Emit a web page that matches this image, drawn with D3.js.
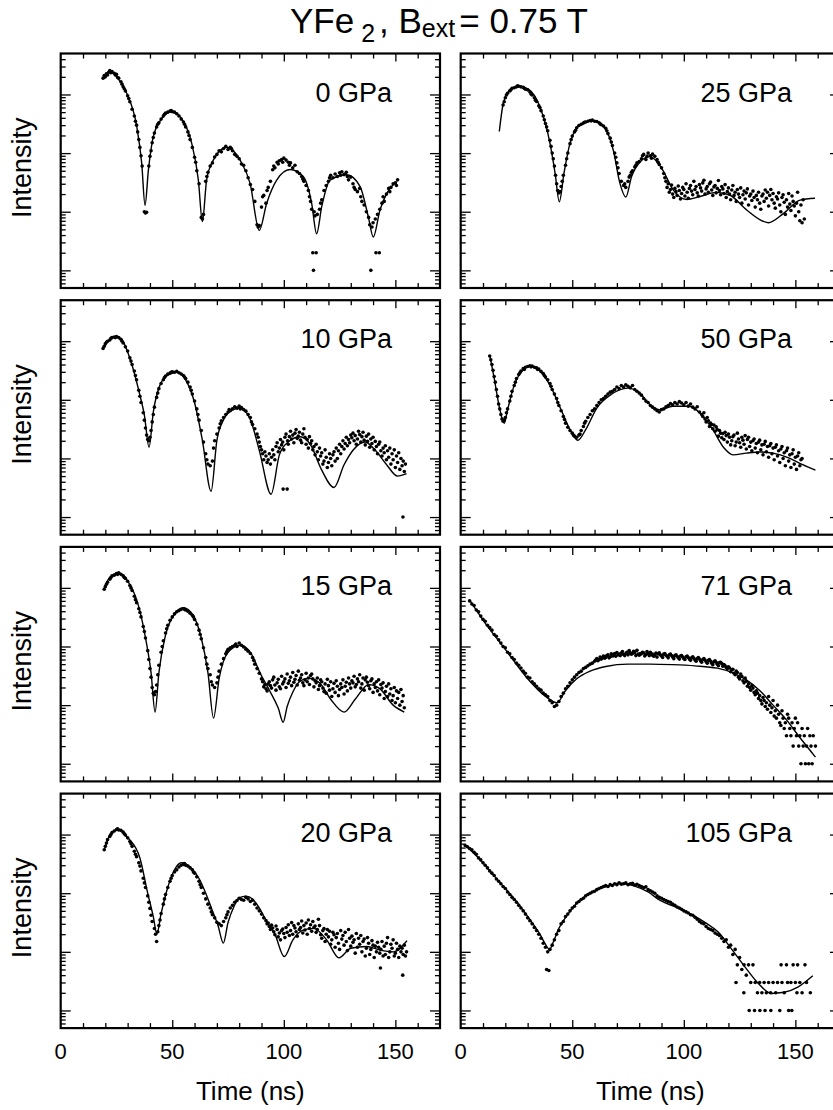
<!DOCTYPE html>
<html><head><meta charset="utf-8">
<script src="https://cdn.jsdelivr.net/npm/d3@7"></script>
<style>
body{margin:0;background:#fff}
svg{display:block}
text{font-family:"Liberation Sans",Arial,Helvetica,sans-serif;fill:#000}
</style></head>
<body><svg id="chart" width="833" height="1110"></svg>
<script>
// ---------------- data ----------------
const xTickLabels = [0, 50, 100, 150];
const panelLabels = ["0 GPa", "25 GPa", "10 GPa", "50 GPa", "15 GPa", "71 GPa", "20 GPa", "105 GPa"];

const fit0 = [[19.1,19950],[22.1,24550],[25.1,19950],[29.6,10470],[34.1,2820],[36.3,676],[37.8,129],[39.3,513],[41.5,1905],[45.3,3890],[49.7,5130],[55,3470],[58.7,1480],[61.7,347],[63.5,68],[65.4,347],[68.4,759],[74.4,1260],[80.4,759],[84.9,302],[89,48],[92.3,138],[96.8,347],[102.8,525],[108.7,398],[112.5,138],[114.7,42],[117,123],[120.7,347],[128.2,427],[134.2,269],[137.9,81],[140.1,37],[143.1,107],[146.1,204],[150.6,324]];
const data0 = [[19,19000],[19.5,21000],[20,20000],[20.5,22500],[21,21500],[21.5,24000],[22,25500],[22.5,23500],[23,24500],[24,23000],[24.5,21500],[25,22000],[25.5,19500],[26,19000],[27,16500],[27.5,15000],[28,13500],[28.5,12500],[29,11500],[30,9500],[30.5,8500],[31,7500],[32,5600],[33,4300],[33.5,3500],[34,3000],[34.5,2300],[35,1700],[35.5,1250],[36,900],[36.5,600],[37.5,100],[38,95],[38.5,98],[39.5,600],[40,880],[40.5,1100],[41,1500],[41.5,1850],[42,2200],[43,2800],[43.5,3100],[44,3300],[45,3800],[46,4300],[46.5,4600],[47,4800],[48,5000],[49,5200],[49.5,5300],[50,5100],[51,5000],[52,4700],[53,4300],[54,3800],[55,3400],[55.5,3100],[56,2800],[57,2300],[57.5,2000],[58,1700],[59,1250],[60,850],[60.5,700],[61,500],[62,300],[63,80],[63.5,75],[64,90],[65,330],[65.5,400],[66,470],[67,600],[68,680],[69,860],[70,950],[71,1100],[72,1050],[73,1200],[74,1300],[75,1150],[76,1250],[76.5,1200],[77,1100],[78,950],[79,880],[80,800],[81,650],[82,620],[83,500],[84,380],[85,290],[86,240],[87,150],[88,60],[88.5,55],[89,58],[90,120],[90.5,180],[91,190],[92,140],[92.5,230],[93,260],[94,330],[95,520],[95.5,600],[96,560],[97,700],[97.5,650],[98,740],[99,780],[99.5,700],[100,820],[101,760],[102,700],[102.5,620],[103,680],[104,560],[105,620],[106,480],[107,450],[108,400],[108.5,360],[109,330],[110,280],[111,230],[111.5,180],[112,150],[112.5,110],[113,20],[113.3,10],[113.6,100],[114,85],[114.5,20],[115,90],[116,110],[116.5,140],[117,160],[118,230],[119,280],[120,330],[120.5,380],[121,420],[122,380],[123,440],[124,400],[125,460],[125.5,420],[126,480],[127,430],[128,470],[128.5,400],[129,350],[130,390],[131,300],[131.5,260],[132,240],[133,220],[134,250],[134.5,180],[135,150],[136,130],[137,100],[138,80],[138.5,60],[139,10],[139.5,55],[140,65],[141,75],[141.3,20],[142,90],[142.8,20],[143,110],[144,140],[144.5,180],[145,150],[146,200],[147,250],[147.5,220],[148,260],[149,300],[150,310],[150.5,280],[151,350]];

const fit25 = [[17.3,2340],[19.1,7080],[22.1,12020],[26.1,13800],[30.3,12300],[35.5,6170],[40,1480],[42.3,457],[44.2,148],[46.3,457],[49,1480],[53.5,3020],[59.2,3550],[64.7,2630],[68.4,1120],[71.4,302],[74,178],[76.6,398],[80.4,708],[84.9,871],[90.1,550],[95.3,234],[101.3,162],[107.3,182],[114.7,214],[120.7,191],[128.2,107],[137.9,65],[144.6,93],[152.1,158],[158.8,170]];
const data25 = [[19,6600],[19.5,7500],[20,8800],[20.5,9800],[21,10500],[22,11500],[22.5,12000],[23,12800],[24,13000],[25,13500],[25.5,14000],[26,13800],[27,13500],[28,13200],[28.5,12800],[29,12300],[30,12000],[31,11000],[31.5,10200],[32,9800],[33,8800],[33.5,8000],[34,7600],[35,6400],[35.5,6000],[36,5300],[37,4300],[37.5,3700],[38,3200],[38.5,2800],[39,2400],[40,1650],[40.5,1300],[41,1000],[41.5,800],[42,600],[42.5,420],[43,300],[43.5,230],[44,210],[44.5,220],[45,270],[45.5,330],[46,420],[47,620],[47.5,800],[48,1000],[49,1450],[49.5,1700],[50,1950],[51,2300],[51.5,2450],[52,2700],[53,2950],[54,3100],[55,3250],[55.5,3350],[56,3400],[57,3500],[58,3600],[58.5,3550],[59,3650],[60,3500],[61,3450],[62,3300],[62.5,3150],[63,3050],[64,2900],[65,2650],[65.5,2400],[66,2150],[67,1800],[67.5,1550],[68,1350],[69,1000],[69.5,850],[70,680],[70.5,560],[71,450],[72,330],[73,280],[73.5,300],[74,260],[75,330],[75.5,390],[76,420],[76.5,470],[77,500],[78,580],[78.5,620],[79,680],[80,720],[81,800],[81.5,900],[82,950],[83,780],[83.5,880],[84,1000],[85,900],[85.5,820],[86,960],[87,880],[88,780],[88.5,700],[89,640],[90,560],[91,450],[91.5,380],
[92,330],[92.5,260],[93,300],[93.5,215],[94,240],[94.5,285],[95,200],[95.5,175],[96,250],[96.5,220],[97,190],[97.5,275],[98,230],[98.5,165],[99,205],[99.5,260],[100,240],[100.5,185],[101,300],[101.5,215],[102,170],[102.5,250],[103,280],[103.5,225],[104,195],[104.5,330],[105,240],[105.5,270],[106,210],[106.5,185],[107,290],[107.5,255],[108,225],[108.5,310],[109,345],[109.5,200],[110,245],[110.5,270],[111,215],[111.5,300],[112,320],[112.5,235],[113,190],[113.5,265],[114,280],[114.5,210],[115,250],[115.5,340],[116,230],[116.5,195],[117,270],[117.5,245],[118,205],[118.5,290],[119,175],[119.5,220],[120,255],[120.5,200],[121,160],[121.5,235],[122,280],[122.5,190],[123,215],[123.5,150],[124,240],[124.5,200],[125,175],[125.5,255],[126,140],[126.5,195],[127,225],[127.5,165],[128,210],[128.5,245],[129,130],[129.5,185],[130,200],[130.5,155],[131,225],[131.5,175],[132,120],[132.5,190],[133,160],[133.5,215],[134,140],[134.5,110],[135,185],[135.5,200],[136,150],[136.5,235],[137,170],[137.5,215],[138,125],[138.5,190],[139,240],[139.5,160],[140,205],[140.5,140],[141,115],[141.5,180],[142,165],[142.5,210],[143,130],[143.5,100],[144,175],[144.5,195],[145,145],[145.5,90],[146,160],[146.5,120],[147,205],[147.5,135],[148,105],[148.5,185],[149,150],[149.5,125],[150,85],[150.5,140],[151,215],[151.5,100],[152,70],[152.5,130],[153,65],[153.5,160],[154,75]];

const fit10 = [[19,7590],[21,9770],[24.3,11750],[27,10960],[31,5130],[35.5,1200],[37.5,550],[39.6,155],[41.5,617],[44.5,1780],[48,2630],[52,2950],[56,2190],[60,891],[63.5,204],[67.4,27.5],[70,204],[73,457],[77,676],[80.4,724],[85,457],[89,138],[94.3,24.5],[98,115],[102,191],[107.3,234],[112,170],[117,63],[122.5,32],[127,78],[131,138],[136.4,191],[141,138],[146,79],[151,50],[155,55]];
const data10 = [[19,7500],[19.5,8200],[20,9000],[20.5,9600],[21,10000],[22,10500],[22.5,11200],[23,11500],[24,11800],[24.5,11500],[25,12000],[26,11500],[27,10800],[27.5,10000],[28,9300],[29,8000],[30,6800],[31,5200],[31.5,4600],[32,4000],[33,3100],[33.5,2600],[34,2200],[35,1450],[35.5,1150],[36,900],[37,600],[37.5,450],[38,330],[38.5,250],[39,210],[39.5,200],[40,230],[40.5,300],[41,420],[41.5,560],[42,750],[43,1100],[43.5,1300],[44,1550],[45,1900],[46,2200],[46.5,2400],[47,2550],[48,2750],[49,2850],[49.5,2950],[50,3000],[51,2950],[52,3050],[53,2900],[54,2750],[55,2600],[55.5,2450],[56,2300],[57,2000],[58,1650],[58.5,1450],[59,1250],[60,950],[61,700],[61.5,560],[62,450],[63,300],[64,190],[65,120],[65.5,95],[66,80],[67,75],[68,90],[68.5,150],[69,200],[70,260],[71,330],[71.5,390],[72,440],[73,500],[74,560],[75,620],[75.5,680],[76,650],[77,700],[78,760],[79,720],[80,780],[80.5,700],[81,740],[82,680],[83,640],[84,560],[85,500],[85.5,420],[86,380],[87,320],
[88,260],[88.5,230],[89,190],[89.5,160],[90,140],[90.5,120],[91,95],[91.5,130],[92,110],[92.5,85],[93,95],[93.5,120],[94,80],[94.5,105],[95,140],[95.5,115],[96,95],[96.5,160],[97,185],[97.5,130],[98,150],[98.5,210],[99,170],[99.5,190],[99.7,30],[100,140],[100.5,230],[101,260],[101.5,30],[101.7,200],[102,175],[102.5,235],[103,290],[103.5,215],[104,250],[104.5,185],[105,270],[105.5,310],[106,220],[106.5,240],[107,280],[107.5,205],[108,185],[108.5,260],[109,320],[109.5,230],[110,175],[110.5,210],[111,150],[111.5,235],[112,180],[112.5,200],[113,140],[113.5,160],[114,115],[114.5,175],[115,130],[115.5,95],[116,150],[116.5,110],[117,125],[117.5,80],[118,90],[118.5,140],[119,105],[119.5,70],[120,85],[120.5,120],[121,100],[121.5,75],[122,115],[122.5,130],[123,90],[123.5,150],[124,100],[124.5,135],[125,175],[125.5,120],[126,160],[126.5,200],[127,145],[127.5,180],[128,230],[128.5,165],[129,210],[129.5,185],[130,250],[130.5,225],[131,270],[131.5,200],[132,245],[132.5,175],[133,215],[133.5,290],[134,255],[134.5,190],[135,235],[135.5,280],[136,205],[136.5,170],[137,240],[137.5,195],[138,260],[138.5,155],[139,215],[139.5,180],[140,230],[140.5,140],[141,195],[141.5,160],[142,120],[142.5,175],[143,190],[143.5,135],[144,110],[144.5,150],[145,125],[145.5,165],[146,95],[146.5,135],[147,105],[147.5,150],[148,80],[148.5,120],[149,95],[149.5,140],[150,70],[150.5,110],[151,85],[151.5,125],[152,65],[152.5,100],[153,75],[153.4,10],[153.5,90],[154,60],[154.5,80]];

const fit50 = [[13.1,5620],[15,2340],[17.3,759],[19.5,398],[21,676],[24,1780],[28,3240],[31,3800],[35,3240],[40,1780],[45,676],[49,309],[52.5,204],[56,309],[61,724],[67,1200],[74.9,1580],[80,1320],[85,813],[89.3,676],[95,776],[102.6,776],[108,550],[113,309],[118,151],[122,115],[128,123],[134,129],[140,123],[147,102],[153,79],[159,63]];
const data50 = [[13,5600],[13.5,4800],[14,4000],[14.5,3200],[15,2500],[15.5,2000],[16,1500],[16.5,1150],[17,850],[17.5,700],[18,560],[18.5,470],[19,430],[19.5,450],[20,500],[20.5,600],[21,700],[22,950],[22.5,1150],[23,1400],[24,1750],[24.5,2000],[25,2300],[26,2700],[26.5,2900],[27,3100],[28,3400],[28.5,3300],[29,3600],[30,3700],[31,3800],[31.5,3650],[32,3750],[33,3600],[34,3500],[34.5,3300],[35,3350],[36,3050],[37,2800],[37.5,2600],[38,2450],[39,2200],[40,1900],[40.5,1700],[41,1500],[42,1250],[43,1050],[43.5,900],[44,800],[45,650],[46,520],[46.5,460],[47,400],[48,340],[49,300],[50,270],[50.5,250],[51,240],[52,230],[53,250],[53.5,260],[54,300],[55,350],[55.5,400],[56,430],[57,500],[58,560],[59,650],[60,700],[61,800],[62,900],[63,1000],[64,1050],[65,1150],[66,1250],[67,1350],[68,1400],[69,1500],[70,1650],[71,1550],[72,1750],[73,1650],[74,1800],[75,1700],[76,1600],[77,1750],[78,1500],[79,1400],[80,1300],[81,1200],[82,1050],[83,950],[84,900],[85,800],[86,750],[87,700],[88,650],[89,620],[90,680],[91,700],[92,760],[93,800],[94,860],[95,820],[96,900],[97,850],[98,930],[99,880],[100,820],[101,900],[102,780],[103,850],[104,750],[105,700],[106,760],[107,620],
[108,560],[108.5,520],[109,600],[109.5,470],[110,420],[110.5,500],[111,440],[111.5,350],[112,400],[112.5,380],[113,320],[113.5,370],[114,290],[114.5,345],[115,310],[115.5,240],[116,300],[116.5,270],[117,225],[117.5,265],[118,210],[118.5,280],[119,245],[119.5,190],[120,260],[120.5,230],[121,170],[121.5,200],[122,235],[122.5,250],[123,165],[123.5,190],[124,270],[124.5,215],[125,185],[125.5,155],[126,230],[126.5,205],[127,175],[127.5,245],[128,145],[128.5,210],[129,230],[129.5,160],[130,190],[130.5,135],[131,200],[131.5,215],[132,150],[132.5,180],[133,125],[133.5,190],[134,205],[134.5,140],[135,170],[135.5,115],[136,175],[136.5,195],[137,130],[137.5,160],[138,105],[138.5,165],[139,180],[139.5,120],[140,150],[140.5,95],[141,155],[141.5,170],[142,110],[142.5,135],[143,85],[143.5,145],[144,160],[144.5,100],[145,125],[145.5,75],[146,135],[146.5,150],[147,90],[147.5,115],[148,70],[148.5,120],[149,140],[149.5,80],[150,105],[150.5,65],[151,110],[151.5,125],[152,75],[152.5,95],[153,100]];

const fit15 = [[19.5,9770],[22,15140],[26.1,17780],[30,13180],[35.2,4470],[38,1410],[40.5,355],[42.3,76],[44,355],[47,1580],[51,3550],[55,4570],[59,3550],[63,1410],[66,355],[68.5,60],[71,282],[75,794],[80.4,1050],[85,794],[90,316],[94,166],[97.5,89],[99.7,51],[101.5,95],[104,166],[107,251],[111,288],[116,240],[121,126],[127,76],[132,126],[138,224],[143,191],[149,100],[154,76]];
const data15 = [[19.5,9500],[20,10500],[20.5,11500],[21,12500],[22,14000],[22.5,15000],[23,16000],[24,16500],[25,17500],[25.5,17000],[26,18000],[27,17000],[28,16000],[28.5,15000],[29,14500],[30,13000],[31,11000],[31.5,10000],[32,9000],[33,7200],[33.5,6300],[34,5600],[35,4400],[35.5,3800],[36,3200],[37,2200],[37.5,1800],[38,1400],[39,850],[39.5,600],[40,420],[40.5,300],[41,200],[41.5,160],[42,150],[42.5,170],[43,220],[43.5,330],[44,480],[45,800],[45.5,1000],[46,1250],[47,1700],[47.5,2000],[48,2300],[49,2800],[50,3200],[51,3600],[52,3900],[53,4100],[54,4300],[55,4400],[55.5,4300],[56,4200],[57,4000],[58,3700],[59,3400],[59.5,3200],[60,2900],[61,2400],[62,1900],[62.5,1600],[63,1350],[64,950],[65,650],[65.5,500],[66,420],[67,330],[67.5,250],[68,220],[69,200],[70,240],[70.5,300],[71,380],[72,500],[73,620],[74,750],[74.5,820],[75,900],[76,950],[77,1000],[78,1050],[78.5,1100],[79,1000],[80,1150],[81,1050],[82,980],[83,900],[84,830],[85,760],[86,650],[86.5,580],[87,500],[88,420],[89,350],
[90,280],[90.5,250],[91,205],[91.5,225],[92,190],[92.5,175],[93,230],[93.5,250],[94,215],[94.5,195],[95,270],[95.5,300],[96,220],[96.5,180],[97,240],[97.5,275],[98,205],[98.5,190],[99,310],[99.5,230],[100,250],[100.5,280],[101,200],[101.5,340],[102,235],[102.5,260],[103,300],[103.5,215],[104,360],[104.5,245],[105,275],[105.5,320],[106,220],[106.5,380],[107,265],[107.5,290],[108,330],[108.5,240],[109,215],[109.5,270],[110,350],[110.5,250],[111,290],[111.5,225],[112,320],[112.5,340],[113,280],[113.5,205],[114,260],[114.5,240],[115,290],[115.5,185],[116,215],[116.5,270],[117,250],[117.5,195],[118,170],[118.5,230],[119,160],[119.5,275],[120,215],[120.5,180],[121,250],[121.5,140],[122,190],[122.5,235],[123,165],[123.5,260],[124,210],[124.5,145],[125,185],[125.5,230],[126,200],[126.5,270],[127,155],[127.5,210],[128,245],[128.5,175],[129,290],[129.5,230],[130,195],[130.5,260],[131,240],[131.5,310],[132,205],[132.5,225],[133,280],[133.5,250],[134,330],[134.5,195],[135,230],[135.5,290],[136,180],[136.5,270],[137,300],[137.5,245],[138,215],[138.5,190],[139,260],[139.5,280],[140,165],[140.5,230],[141,200],[141.5,250],[142,175],[142.5,270],[143,150],[143.5,225],[144,195],[144.5,240],[145,130],[145.5,170],[146,210],[146.5,140],[147,230],[147.5,155],[148,190],[148.5,120],[149,145],[149.5,200],[150,110],[150.5,175],[151,130],[151.5,165],[152,100],[152.5,185],[153,115],[153.5,145],[154,90]];

const fit71 = [[4,6170],[10,2820],[20,891],[30,282],[38,141],[43.2,110],[47,178],[52,282],[58,380],[65,457],[75,501],[85,501],[95,490],[105,468],[115,427],[122,355],[128,269],[134,178],[140,100],[146,56],[152,28],[159,13]];
const data71 = [[4,6000],[5,5300],[6,5000],[7,4200],[8,3900],[9,3300],[10,2900],[11,2700],[12,2300],[13,2100],[14,1900],[15,1600],[16,1500],[17,1300],[18,1150],[19,1000],[20,950],[21,800],[22,750],[23,650],[24,600],[25,520],[26,480],[27,430],[28,380],[29,350],[30,300],[31,290],[32,250],[33,230],[34,210],[35,190],[36,180],[37,160],[38,150],[39,140],[40,120],[41,110],[42,95],[43,100],[44,115],[45,140],[46,160],[47,190],[48,210],[49,240],[50,270],[51,300],[52,330],[53,360],[54,380],[55,420],[56,440],[57,470],[58,500],[59,520],
[60,560],[60.5,590],[61,620],[61.5,570],[62,600],[62.5,660],[63,610],[63.5,640],[64,690],[64.5,630],[65,650],[65.5,700],[66,720],[66.5,640],[67,670],[67.5,750],[68,690],[68.5,700],[69,760],[69.5,680],[70,790],[70.5,720],[71,740],[71.5,700],[72,770],[72.5,820],[73,730],[73.5,700],[74,760],[74.5,800],[75,720],[75.5,850],[76,780],[76.5,740],[77,760],[77.5,830],[78,790],[78.5,700],[79,860],[79.5,740],[80,710],[80.5,760],[81,750],[81.5,800],[82,780],[82.5,690],[83,730],[83.5,820],[84,760],[84.5,700],[85,800],[85.5,720],[86,740],[86.5,680],[87,700],[87.5,770],[88,660],[88.5,750],[89,780],[89.5,720],[90,690],[90.5,650],[91,740],[91.5,760],[92,710],[92.5,680],[93,640],[93.5,720],[94,740],[94.5,700],[95,660],[95.5,620],[96,700],[96.5,720],[97,680],[97.5,640],[98,610],[98.5,690],[99,700],[99.5,660],[100,620],[100.5,600],[101,670],[101.5,690],[102,650],[102.5,610],[103,580],[103.5,640],[104,670],[104.5,630],[105,590],[105.5,560],[106,620],[106.5,650],[107,610],[107.5,570],[108,540],[108.5,600],[109,620],[109.5,590],[110,550],[110.5,520],[111,580],[111.5,600],[112,560],[112.5,520],[113,490],[113.5,550],[114,570],[114.5,540],[115,500],[115.5,470],[116,530],[116.5,540],[117,510],[117.5,460],[118,490],
[118.5,470],[119,440],[119.5,420],[120,450],[120.5,430],[121,370],[121.5,400],[122,410],[122.5,350],[123,330],[123.5,380],[124,360],[124.5,300],[125,280],[125.5,340],[126,310],[126.5,260],[127,240],[127.5,290],[128,255],[128.5,210],[129,230],[129.5,200],[130,180],[130.5,215],[131,195],[131.5,165],[132,150],[132.5,175],[133,160],[133.5,130],[134,145],[134.5,120],[135,105],[135.5,135],[136,120],[136.5,95],[137,110],[137.5,85],[138,140],[138.5,100],[139,75],[139.5,90],[140,120],[140.5,65],[141,80],[141.5,60],[142,100],[142.5,70],[143,50],[143.5,45],[144,80],[144.5,60],[145,40],[145.5,50],[146,30],[146.5,70],[147,60],[147.5,40],[148,30],[148.5,50],[149,20],[149.5,40],[150,60],[150.5,30],[151,50],[151.5,20],[152,30],[152.5,10],[153,40],[153.5,20],[154,30],[154.5,10],[155,20],[155.5,40],[156,10],[156.5,30],[157,20],[157.5,10],[158,30],[159,20]];

const fit20 = [[19.5,5500],[22,9550],[26.1,12300],[30,8910],[35.5,3980],[39,1000],[41.5,398],[43.1,204],[45,447],[48,1260],[51,2510],[54,3310],[58,2800],[62,1780],[65,1000],[68,501],[70.5,282],[72.9,141],[75,316],[77.6,589],[80,832],[83,891],[86,794],[89,562],[92,347],[96,200],[100.2,83],[104,158],[108.6,234],[113.3,251],[119.3,158],[124.7,79],[130,115],[137.2,123],[143.1,107],[149.2,100],[155.2,155]];
const data20 = [[19.5,5500],[20,6300],[20.5,7200],[21,8200],[22,9300],[22.5,10000],[23,10800],[24,11500],[25,12200],[25.5,12500],[26,12000],[27,11800],[28,11000],[28.5,10300],[29,9800],[30,8800],[31,7600],[31.5,7000],[32,6300],[33,5200],[33.5,4600],[34,4200],[35,3300],[35.5,2900],[36,2400],[37,1800],[37.5,1500],[38,1250],[39,900],[39.5,700],[40,550],[40.5,420],[41,330],[42,250],[42.5,200],[43,150],[43.5,220],[44,280],[44.5,350],[45,450],[46,650],[46.5,800],[47,950],[48,1250],[49,1600],[49.5,1800],[50,2000],[51,2300],[52,2500],[53,2800],[54,3000],[55,3100],[55.5,3200],[56,3000],[57,2900],[58,2700],[59,2500],[59.5,2300],[60,2200],[61,1900],[62,1600],[62.5,1400],[63,1250],[64,1000],[65,800],[66,650],[67,560],[67.5,480],[68,430],[69,380],[70,320],[71,300],[72,280],[73,330],[74,380],[74.5,430],[75,480],[76,560],[77,620],[78,700],[79,750],[80,820],[81,780],[82,760],[83,850],[84,800],[85,720],[86,760],[87,650],[88,560],[89,500],[90,440],[91,380],
[92,340],[92.5,300],[93,310],[93.5,270],[94,240],[94.5,285],[95,255],[95.5,220],[96,195],[96.5,275],[97,240],[97.5,180],[98,210],[98.5,160],[99,230],[99.5,245],[100,205],[100.5,175],[101,260],[101.5,215],[102,290],[102.5,190],[103,230],[103.5,315],[104,200],[104.5,280],[105,255],[105.5,220],[106,185],[106.5,300],[107,240],[107.5,260],[108,335],[108.5,210],[109,280],[109.5,235],[110,310],[110.5,200],[111,350],[111.5,250],[112,290],[112.5,225],[113,330],[113.5,260],[114,275],[114.5,215],[115,240],[115.5,360],[116,280],[116.5,195],[117,170],[117.5,230],[118,250],[118.5,150],[119,200],[119.5,240],[120,180],[120.5,225],[121,135],[121.5,160],[122,215],[122.5,195],[123,120],[123.5,175],[124,205],[124.5,140],[125,110],[125.5,230],[126,165],[126.5,190],[127,130],[127.5,215],[128,150],[128.5,105],[129,240],[129.5,170],[130,125],[130.5,185],[131,145],[131.5,160],[132,95],[132.5,205],[133,120],[133.5,170],[134,135],[134.5,190],[135,100],[135.5,150],[136,165],[136.5,85],[137,115],[137.5,175],[138,140],[138.5,90],[139,110],[139.5,155],[140,130],[140.5,80],[141,125],[141.5,100],[142,145],[142.5,120],[143,95],[143.3,53],[143.5,110],[144,150],[144.5,85],[145,125],[145.5,90],[146,140],[146.5,175],[147,80],[147.5,100],[148,135],[148.5,115],[149,160],[149.5,85],[150,95],[150.5,140],[151,110],[151.5,80],[152,125],[152.5,100],[153,115],[153.3,40],[153.5,90],[154,130],[154.5,85],[155,100]];

const fit105 = [[2,6610],[8,3980],[13,2400],[20,1200],[26.6,603],[32,316],[35.5,200],[37.8,138],[39.8,110],[41.8,158],[44,251],[46.2,347],[50,550],[53.4,759],[60,1100],[66,1320],[71,1480],[78,1320],[84,1050],[89.2,759],[96,589],[103.4,437],[110,309],[115.3,219],[121,117],[127.3,56],[133,30],[139.2,19.5],[145,20.4],[151.1,25],[157.8,39]];
const data105 = [[2,6500],[3,6200],[4,5800],[5,5500],[6,5000],[7,4600],[8,4000],[9,3700],[10,3300],[11,3000],[12,2700],[13,2400],[14,2200],[15,2000],[16,1750],[17,1600],[18,1450],[19,1300],[20,1200],[21,1050],[22,950],[23,850],[24,780],[25,700],[26,620],[27,560],[28,500],[29,440],[30,380],[31,340],[32,300],[33,260],[34,230],[35,200],[36,170],[37,140],[38,120],[38.5,50],[39,100],[39.5,48],[40,110],[41,130],[42,160],[43,200],[44,230],[45,300],[46,330],[47,400],[48,440],[49,500],[50,560],[51,600],[52,680],[53,720],[54,780],[55,820],[56,900],[57,950],[58,1000],[59,1050],[60,1080],[61,1150],[62,1200],[63,1250],[64,1300],[65,1350],[66,1300],[67,1400],[68,1350],[69,1450],[70,1400],[71,1500],[72,1420],[73,1450],[74,1500],[75,1400],[76,1450],[77,1480],[78,1380],[79,1420],[80,1350],[81,1300],[82,1250],[83,1280],[84,1150],[85,1100],[86,1050],[87,1000],[88,900],[89,850],[90,820],[91,780],[92,750],[93,720],[94,700],[95,650],[96,620],[97,580],[98,560],[99,530],[100,500],[101,480],[102,460],[103,430],[104,420],[105,390],[106,360],[107,330],[108,310],[109,300],[110,270],[111,250],[112,240],[113,230],[114,210],[115,200],[116,190],[117,170],[118,150],[119,160],[120,120],[121,130],[122,90],[123,110],[123.4,30],[124,60],[125,80],[126,50],[126.9,20],[127,60],[128,40],[129,60],[129.3,10],[130,30],[131,60],[131.7,10],[132,30],[133,20],[134,30],[134.1,10],[135,20],[136,30],[136.4,10],[137,20],[138,30],[138.9,20],[139,10],[140,30],[141.2,20],[142,30],[143,10],[143.6,60],[144,30],[145,20],[146,60],[146.5,30],[147,10],[148,30],[148.4,10],[149,60],[150,30],[150.7,20],[151,60],[152,30],[153,20],[154.3,60],[155,30],[156.7,20]];

// ---------------- layout ----------------
const svg = d3.select("#chart");
const colX = [60.7, 460.7], PW = 379.3, PH = 234.5;
const rowY = [53.5, 300.2, 546.9, 793.6];
const panels = [
  {fit: fit0, data: data0}, {fit: fit25, data: data25},
  {fit: fit10, data: data10}, {fit: fit50, data: data50},
  {fit: fit15, data: data15}, {fit: fit71, data: data71},
  {fit: fit20, data: data20}, {fit: fit105, data: data105}
];

panels.forEach((p, i) => {
  const r = Math.floor(i / 2), c = i % 2;
  const x0 = colX[c], y0 = rowY[r];
  const x = d3.scaleLinear().domain([0, 170]).range([x0, x0 + PW]);
  const y = d3.scaleLog().domain([5, 50000]).range([y0 + PH, y0]);
  const g = svg.append("g");
  const cid = "clip" + i;
  g.append("clipPath").attr("id", cid).append("rect")
    .attr("x", x0).attr("y", y0).attr("width", PW).attr("height", PH);

  const yt = y.ticks().filter(v => v > 5 && v < 50000);
  const yMaj = yt.filter(v => Math.abs(Math.log10(v) - Math.round(Math.log10(v))) < 1e-9);
  const yMin = yt.filter(v => !yMaj.includes(v));
  const xt = x.ticks(17).filter(v => v > 0 && v < 170);
  const xMaj = xt.filter(v => v % 50 === 0);
  const xMin = xt.filter(v => v % 50 !== 0);
  const axes = [
    [d3.axisRight(y).tickValues(yMaj).tickSize(10), `translate(${x0},0)`],
    [d3.axisRight(y).tickValues(yMin).tickSize(5), `translate(${x0},0)`],
    [d3.axisLeft(y).tickValues(yMaj).tickSize(10), `translate(${x0 + PW},0)`],
    [d3.axisLeft(y).tickValues(yMin).tickSize(5), `translate(${x0 + PW},0)`],
    [d3.axisBottom(x).tickValues(xMaj).tickSize(8), `translate(0,${y0})`],
    [d3.axisBottom(x).tickValues(xMin).tickSize(5), `translate(0,${y0})`],
    [d3.axisTop(x).tickValues(xMaj).tickSize(8), `translate(0,${y0 + PH})`],
    [d3.axisTop(x).tickValues(xMin).tickSize(5), `translate(0,${y0 + PH})`]
  ];
  axes.forEach(([ax, tr]) => {
    const a = g.append("g").attr("transform", tr).call(ax.tickFormat(""));
    a.select(".domain").remove();
    a.selectAll("line").attr("stroke", "#000").attr("stroke-width", 1.3);
  });

  const line = d3.line().x(d => x(d[0])).y(d => y(d[1])).curve(d3.curveMonotoneX);
  g.append("path").datum(p.fit).attr("clip-path", `url(#${cid})`)
    .attr("d", line).attr("fill", "none").attr("stroke", "#000").attr("stroke-width", 1.4);

  g.append("g").attr("clip-path", `url(#${cid})`).selectAll("circle").data(p.data).join("circle")
    .attr("cx", d => x(d[0])).attr("cy", d => y(d[1])).attr("r", 1.8).attr("fill", "#000");

  g.append("rect").attr("x", x0).attr("y", y0).attr("width", PW).attr("height", PH)
    .attr("fill", "none").attr("stroke", "#000").attr("stroke-width", 2.2);

  g.append("text").attr("x", x0 + PW - 48).attr("y", y0 + 48).attr("text-anchor", "end")
    .attr("font-size", 27).text(panelLabels[i]);

  if (c === 0) {
    g.append("text").attr("transform", `translate(31,${y0 + PH / 2 - 3}) rotate(-90)`)
      .attr("text-anchor", "middle").attr("font-size", 27).text("Intensity");
  }
  if (r === 3) {
    g.selectAll(".xl").data(xTickLabels).join("text")
      .attr("x", d => x(d)).attr("y", 1059).attr("text-anchor", "middle")
      .attr("font-size", 22).text(d => d);
    g.append("text").attr("x", x0 + PW / 2).attr("y", 1100).attr("text-anchor", "middle")
      .attr("font-size", 26).text("Time (ns)");
  }
});

// title
const t = svg.append("text").attr("x", 290).attr("y", 33).attr("font-size", 35);
t.append("tspan").text("YFe");
t.append("tspan").attr("font-size", 25).attr("dy", 8.7).text("\u00a02");
t.append("tspan").attr("dy", -8.7).attr("dx", 4).text(", B");
t.append("tspan").attr("font-size", 25).attr("dy", 4.3).text("ext");
t.append("tspan").attr("dy", -4.3).attr("dx", 4).text("= 0.75 T");
</script>
</body></html>
